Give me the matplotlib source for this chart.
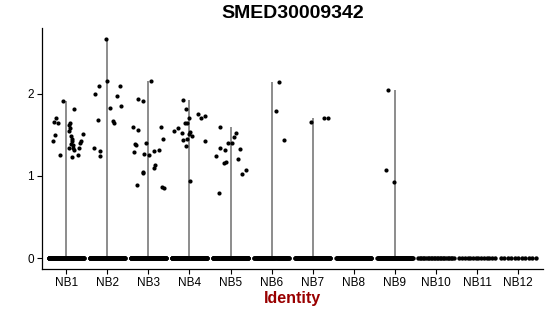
#!/usr/bin/env python3
"""Violin-style expression plot for SMED30009342 across NB identities."""

import numpy as np
import matplotlib
matplotlib.use("Agg")
import matplotlib.pyplot as plt

plt.rcParams["font.family"] = ["Liberation Sans", "DejaVu Sans"]

groups = ["NB1", "NB2", "NB3", "NB4", "NB5", "NB6",
          "NB7", "NB8", "NB9", "NB10", "NB11", "NB12"]

# number of cells with zero expression per group (estimated)
zero_counts = [150, 150, 150, 150, 150, 70, 90, 90, 80, 24, 14, 11]

# non-zero expression values per group, with the jitter offset seen in the picture
nb1_vals = [1.91, 1.71, 1.66, 1.65, 1.50, 1.43, 1.26, 1.62, 1.65, 1.58, 1.55, 1.82,
            1.48, 1.45, 1.42, 1.39, 1.38, 1.34, 1.34, 1.23, 1.26, 1.34, 1.40, 1.42, 1.51, 1.32]
nb1_jit = [-0.08, -0.25, -0.29, -0.21, -0.26, -0.31, -0.15, 0.06, 0.10, 0.09, 0.06, 0.19,
           0.12, 0.14, 0.15, 0.11, 0.16, 0.07, 0.16, 0.14, 0.28, 0.31, 0.34, 0.37, 0.40, 0.18]
nb2_vals = [2.67, 2.15, 2.09, 2.00, 1.68, 1.34, 1.30, 1.24, 2.09, 1.97, 1.85, 1.83, 1.67, 1.65]
nb2_jit = [-0.02, 0.0, -0.21, -0.29, -0.23, -0.32, -0.17, -0.18, 0.30, 0.24, 0.34, 0.06, 0.14, 0.16]
nb3_vals = [2.16, 1.94, 1.91, 1.59, 1.56, 1.39, 1.29, 1.40, 1.27, 1.26, 1.60, 1.45, 1.31,
            1.30, 1.13, 1.10, 1.05, 1.03, 0.89, 0.87, 0.85, 1.38]
nb3_jit = [0.06, -0.25, -0.13, -0.37, -0.26, -0.32, -0.34, -0.05, -0.10, 0.02, 0.31, 0.36, 0.26,
           0.14, 0.15, 0.13, -0.12, -0.14, -0.27, 0.34, 0.39, -0.31]
nb4_vals = [1.93, 1.82, 1.71, 1.64, 1.64, 1.58, 1.55, 1.52, 1.51, 1.53, 1.48, 1.44, 1.45,
            1.37, 1.75, 1.71, 1.73, 1.42, 0.94]
nb4_jit = [-0.15, -0.08, 0.0, -0.12, -0.07, -0.28, -0.37, -0.17, -0.02, 0.02, 0.05, -0.16, -0.07,
           -0.08, 0.20, 0.29, 0.38, 0.38, 0.02]
nb5_vals = [1.59, 1.24, 1.34, 1.31, 1.40, 1.40, 1.47, 1.52, 1.33, 1.20, 1.16, 1.17, 1.07, 1.02, 0.79]
nb5_jit = [-0.26, -0.36, -0.26, -0.14, -0.06, 0.04, 0.09, 0.13, 0.22, 0.19, -0.15, -0.10, 0.37, 0.29, -0.28]
nb6_vals = [2.14, 1.79, 1.44]
nb6_jit = [0.19, 0.11, 0.29]
nb7_vals = [1.66, 1.71, 1.71]
nb7_jit = [-0.04, 0.28, 0.36]
nb9_vals = [2.05, 1.07, 0.92]
nb9_jit = [-0.16, -0.21, -0.02]

nonzero_vals = [nb1_vals, nb2_vals, nb3_vals, nb4_vals, nb5_vals, nb6_vals,
                nb7_vals, [], nb9_vals, [], [], []]
nonzero_jit = [nb1_jit, nb2_jit, nb3_jit, nb4_jit, nb5_jit, nb6_jit,
               nb7_jit, [], nb9_jit, [], [], []]

fig = plt.figure(figsize=(5.5, 3.16), dpi=100)
ax = fig.add_axes([0.0755, 0.1487, 0.9115, 0.7623])

pos = np.arange(1, len(groups) + 1)
for i, g in enumerate(groups):
    vals = nonzero_vals[i]
    if vals:
        # thin violin body: collapses to a line when most cells are zero
        ax.vlines(pos[i], 0, max(vals), color="#6e6e6e", linewidth=1.1, zorder=1)
    n = zero_counts[i]
    xs = pos[i] + np.linspace(-0.43, 0.43, n)
    ax.scatter(xs, np.zeros(n), s=10, color="black", linewidths=0, zorder=2)
    if vals:
        ax.scatter(pos[i] + np.array(nonzero_jit[i]), vals, s=9, color="black",
                   linewidths=0, zorder=3)

ax.set_xlim(0.4, len(groups) + 0.6)
ax.set_ylim(-0.134, 2.80)
ax.set_xticks(pos)
ax.set_xticklabels(groups)
ax.set_yticks([0, 1, 2])
ax.set_yticklabels(["0", "1", "2"])
ax.tick_params(axis="both", labelsize=8.5, length=3.5, width=0.8, color="black",
               labelcolor="black", pad=2)
for side in ["top", "right"]:
    ax.spines[side].set_visible(False)
for side in ["left", "bottom"]:
    ax.spines[side].set_linewidth(0.9)
    ax.spines[side].set_color("black")

ax.set_title("SMED30009342", fontsize=14, fontweight="bold", pad=7)
ax.set_xlabel("Identity", fontsize=11.5, fontweight="bold", color="#990000", labelpad=2)

fig.savefig("out.png", dpi=100)
plt.close(fig)
